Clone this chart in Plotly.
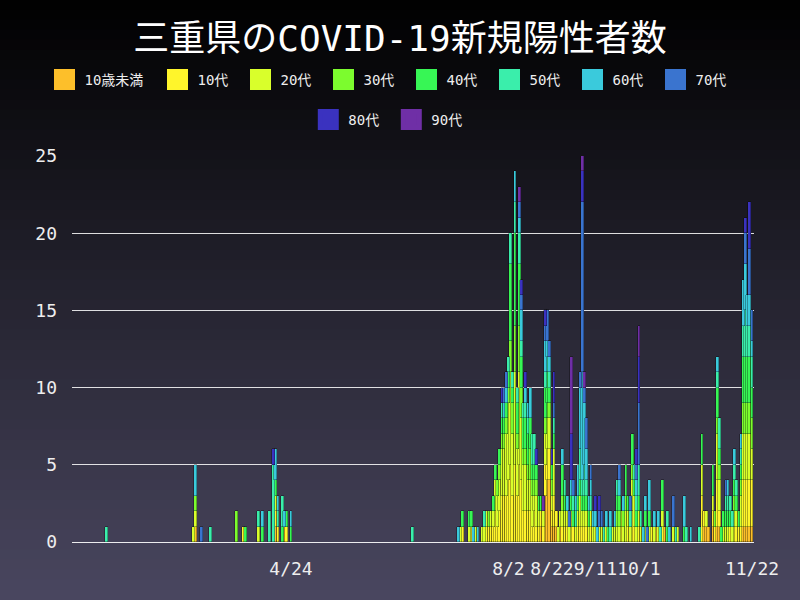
import plotly.graph_objects as go

DATES = [
    "2020-01-30", "2020-03-10", "2020-03-11", "2020-03-14", "2020-03-18", "2020-03-30", "2020-04-02", "2020-04-03", "2020-04-09", "2020-04-11",
    "2020-04-14", "2020-04-16", "2020-04-17", "2020-04-18", "2020-04-20", "2020-04-21", "2020-04-22", "2020-04-24", "2020-06-19", "2020-07-10",
    "2020-07-11", "2020-07-12", "2020-07-15", "2020-07-16", "2020-07-17", "2020-07-18", "2020-07-19", "2020-07-21", "2020-07-22", "2020-07-23",
    "2020-07-24", "2020-07-25", "2020-07-26", "2020-07-27", "2020-07-28", "2020-07-29", "2020-07-30", "2020-07-31", "2020-08-01", "2020-08-02",
    "2020-08-03", "2020-08-04", "2020-08-05", "2020-08-06", "2020-08-07", "2020-08-08", "2020-08-09", "2020-08-10", "2020-08-11", "2020-08-12",
    "2020-08-13", "2020-08-14", "2020-08-15", "2020-08-16", "2020-08-17", "2020-08-18", "2020-08-19", "2020-08-20", "2020-08-21", "2020-08-22",
    "2020-08-23", "2020-08-24", "2020-08-25", "2020-08-26", "2020-08-27", "2020-08-28", "2020-08-29", "2020-08-30", "2020-08-31", "2020-09-01",
    "2020-09-02", "2020-09-03", "2020-09-04", "2020-09-05", "2020-09-06", "2020-09-07", "2020-09-08", "2020-09-09", "2020-09-10", "2020-09-11",
    "2020-09-12", "2020-09-13", "2020-09-14", "2020-09-15", "2020-09-16", "2020-09-17", "2020-09-18", "2020-09-19", "2020-09-20", "2020-09-21",
    "2020-09-22", "2020-09-23", "2020-09-24", "2020-09-25", "2020-09-26", "2020-09-27", "2020-09-28", "2020-09-29", "2020-09-30", "2020-10-01",
    "2020-10-02", "2020-10-03", "2020-10-04", "2020-10-05", "2020-10-06", "2020-10-07", "2020-10-08", "2020-10-09", "2020-10-10", "2020-10-11",
    "2020-10-12", "2020-10-13", "2020-10-14", "2020-10-15", "2020-10-17", "2020-10-18", "2020-10-19", "2020-10-22", "2020-10-23", "2020-10-25",
    "2020-10-29", "2020-10-30", "2020-10-31", "2020-11-01", "2020-11-02", "2020-11-04", "2020-11-05", "2020-11-06", "2020-11-07", "2020-11-08",
    "2020-11-09", "2020-11-10", "2020-11-11", "2020-11-12", "2020-11-13", "2020-11-14", "2020-11-15", "2020-11-16", "2020-11-17", "2020-11-18",
    "2020-11-19", "2020-11-20", "2020-11-21", "2020-11-22",
]

AGE_UNDER10 = [
    0,0,1,0,0,0,0,0,0,0,  0,0,1,0,0,1,0,0,0,0,  0,0,0,0,0,0,0,0,0,0,  0,0,0,0,0,0,0,0,0,0,
    0,0,0,0,0,0,0,0,0,0,  0,0,0,0,1,0,3,4,4,1,  1,1,0,1,0,0,0,0,0,0,  0,0,0,0,0,0,0,0,0,0,
    0,0,0,0,0,0,0,0,0,0,  0,0,0,0,0,0,0,0,0,0,  0,0,0,0,0,0,0,1,0,0,  0,1,0,0,0,0,0,0,0,0,
    0,0,1,1,1,1,0,1,1,0,  0,0,0,0,0,0,0,0,0,1,  1,1,1,1,
]
AGE_10S = [
    0,0,0,0,0,0,1,0,0,0,  0,0,1,1,0,0,1,0,0,0,  0,1,0,1,0,0,0,0,0,1,  1,1,1,2,1,2,3,3,3,4,
    5,3,5,3,5,4,2,2,2,2,  1,2,1,1,1,1,2,2,2,1,  2,1,0,0,1,1,1,0,1,1,  0,1,1,1,1,1,0,1,0,0,
    0,0,0,0,0,0,0,0,0,0,  0,1,0,0,1,0,2,1,0,1,  0,0,0,0,0,1,0,0,0,0,  1,0,0,0,0,0,0,0,0,0,
    0,3,1,0,0,1,1,3,1,0,  0,0,0,1,0,1,1,1,1,3,  3,3,3,3,
]
AGE_20S = [
    0,1,1,0,0,0,0,0,1,0,  0,0,1,0,0,0,0,0,0,0,  1,0,1,0,0,1,0,1,1,1,  0,1,1,2,2,2,3,3,4,5,
    6,4,6,3,6,4,3,3,2,2,  2,1,2,1,0,1,2,2,2,1,  3,0,1,1,1,1,1,1,1,0,  1,1,2,1,1,1,1,1,1,1,
    0,1,1,0,1,0,0,1,1,1,  1,1,1,2,1,1,2,2,1,1,  1,0,1,0,1,0,1,0,1,0,  1,0,0,0,1,0,1,0,0,0,
    0,2,0,1,0,1,0,3,2,0,  1,1,1,0,1,1,1,0,2,3,  3,3,3,2,
]
AGE_30S = [
    0,0,1,0,0,2,0,0,0,0,  0,0,0,0,0,0,0,0,0,0,  0,0,0,0,0,0,0,0,0,0,  1,0,0,0,1,1,1,1,1,1,
    2,2,3,1,3,2,1,1,1,2,  1,1,1,0,0,0,1,1,1,1,  0,0,0,0,1,0,0,0,0,0,  0,0,0,0,0,0,0,0,0,0,
    0,0,0,0,0,0,0,0,0,1,  1,0,1,1,0,0,1,0,0,0,  0,0,0,0,0,0,0,0,0,0,  0,0,0,0,0,0,0,0,0,0,
    0,0,0,0,0,0,1,1,1,0,  0,0,0,0,0,1,0,0,1,2,  2,2,2,2,
]
AGE_40S = [
    0,0,0,0,0,0,0,1,0,1,  0,0,1,0,1,0,1,1,0,0,  0,1,1,1,0,0,0,0,0,0,  0,0,1,1,0,1,1,1,1,1,
    5,1,6,2,4,2,2,2,2,2,  1,1,1,1,1,0,2,2,1,1,  1,0,0,0,2,1,0,0,1,1,  0,1,1,1,1,1,1,0,0,0,
    0,0,0,0,0,1,0,0,0,1,  1,0,0,2,1,0,2,1,1,1,  0,0,1,0,1,0,0,0,0,0,  2,0,1,0,0,0,0,1,0,0,
    0,2,0,0,0,2,0,2,1,1,  1,1,1,1,0,1,1,1,1,3,  3,3,3,2,
]
AGE_50S = [
    1,0,0,0,1,0,0,0,1,0,  2,5,0,1,2,0,0,0,1,0,  0,0,0,0,0,0,0,0,1,0,  0,0,0,0,0,0,1,0,0,1,
    2,1,2,1,2,1,1,1,1,0,  2,2,0,0,0,0,1,1,1,0,  1,0,0,0,0,1,0,0,0,1,  1,0,2,1,2,1,0,1,0,0,
    0,0,0,1,0,0,1,0,0,1,  0,0,0,0,0,1,0,1,1,2,  1,0,0,0,0,0,0,0,0,1,  0,0,1,0,0,1,0,0,1,0,
    1,0,0,0,0,0,0,1,2,0,  0,1,1,1,1,1,1,0,1,2,  3,2,2,2,
]
AGE_60S = [
    0,0,2,0,0,0,0,0,0,1,  0,0,2,1,0,1,0,1,0,1,  0,0,0,0,1,0,1,0,0,0,  0,0,0,0,0,0,0,1,1,0,
    0,0,2,0,1,2,0,1,1,2,  0,0,0,0,0,0,2,1,1,0,  0,0,0,0,1,0,1,0,1,0,  1,2,4,7,4,2,1,1,1,1,
    1,0,0,0,1,0,1,0,1,0,  1,0,1,0,0,0,0,0,1,0,  0,1,1,0,2,0,1,0,1,0,  0,0,0,1,0,0,0,2,0,1,
    0,0,0,0,0,0,0,1,0,0,  0,0,1,0,0,1,0,0,1,3,  3,2,2,1,
]
AGE_70S = [
    0,0,0,1,0,0,0,0,0,0,  0,0,0,0,0,0,0,0,0,0,  0,0,0,0,0,0,0,0,0,0,  0,0,0,0,0,0,0,1,1,0,
    0,0,0,0,1,1,0,0,0,0,  0,0,0,0,0,0,1,2,1,0,  1,0,0,0,0,0,0,1,0,1,  0,0,1,11,1,2,0,1,0,0,
    0,1,1,0,0,0,0,0,0,0,  1,0,0,0,0,1,0,0,1,4,  0,0,0,1,0,0,0,0,0,0,  0,0,0,0,2,0,0,0,0,0,
    0,0,0,0,0,0,0,0,0,0,  0,1,0,0,0,0,0,0,0,0,  2,0,3,2,
]
AGE_80S = [
    0,0,0,0,0,0,0,0,0,0,  0,1,0,0,0,0,0,0,0,0,  0,0,0,0,0,0,0,0,0,0,  0,0,0,0,0,0,1,0,0,0,
    0,0,0,0,0,1,0,1,0,0,  0,0,1,0,0,0,1,0,0,1,  2,0,0,0,0,0,0,0,3,0,  0,0,0,2,0,0,0,0,0,1,
    0,1,0,0,0,0,0,0,0,0,  0,0,0,0,0,0,0,0,1,3,  0,0,0,0,0,0,0,0,0,0,  0,0,0,0,0,0,0,0,0,0,
    0,0,0,0,0,0,0,0,0,0,  0,0,0,0,0,0,0,0,0,0,  1,0,3,0,
]
AGE_90S = [
    0,0,0,0,0,0,0,0,0,0,  0,0,0,0,0,0,0,0,0,0,  0,0,0,0,0,0,0,0,0,0,  0,0,0,0,0,0,0,0,0,0,
    0,0,0,0,1,0,0,0,0,0,  0,0,0,0,0,1,0,0,0,0,  0,0,0,0,0,0,0,0,5,0,  0,0,0,1,1,0,0,0,0,0,
    0,0,0,0,0,0,0,0,0,0,  0,0,0,0,0,0,0,0,0,2,  0,0,0,0,0,0,0,0,0,0,  0,0,0,0,0,0,0,0,0,0,
    0,0,0,0,0,0,0,0,0,0,  0,0,0,0,0,0,0,0,0,0,  0,0,0,0,
]

AGE_LABELS = ["10歳未満", "10代", "20代", "30代", "40代", "50代", "60代", "70代", "80代", "90代"]
AGE_COLORS = ["#fdbf2a", "#fff52b", "#d9ff2b", "#7cfc2e", "#37f655", "#3aeeab",
              "#3acadc", "#3a74cf", "#3a32bf", "#6f2fa6"]
SERIES = [AGE_UNDER10, AGE_10S, AGE_20S, AGE_30S, AGE_40S, AGE_50S, AGE_60S, AGE_70S, AGE_80S, AGE_90S]

TICK_DATES = ["2020-04-24", "2020-08-02", "2020-08-22", "2020-09-11", "2020-10-01", "2020-11-22"]
TICK_TEXT = ["4/24", "8/2", "8/22", "9/11", "10/1", "11/22"]

FONT = "DejaVu Sans Mono, Noto Sans CJK JP, sans-serif"
DAY_MS = 86400000

fig = go.Figure()
for name, color, vals in zip(AGE_LABELS, AGE_COLORS, SERIES):
    fig.add_trace(go.Bar(
        x=DATES, y=[v if v else None for v in vals], name=name,
        width=DAY_MS * 1.25,
        marker=dict(color=color, line=dict(color="rgba(0,0,0,0.5)", width=0.6)),
        legendgroup=name, showlegend=False,
    ))
for i, (name, color) in enumerate(zip(AGE_LABELS, AGE_COLORS)):
    fig.add_trace(go.Scatter(
        x=[None], y=[None], mode="markers", name=name, legendgroup=name,
        marker=dict(symbol="square", size=16, color=color, line=dict(color=color, width=5)),
        legend="legend" if i < 8 else "legend2",
        legendwidth=68 if i == 0 else 38,
    ))

# background gradient (style only)
H, TOP, BOT = 600, 156, 542
n = 60
shapes = []
for k in range(n):
    y0p = k * H / n
    y1p = (k + 1) * H / n
    t = (k + 0.5) / n
    c = (int(round(74 * t)), int(round(71 * t)), int(round(96 * t)))
    shapes.append(dict(
        type="rect", xref="paper", yref="paper", layer="below",
        x0=-0.2, x1=1.2,
        y0=(BOT - y1p) / (BOT - TOP), y1=(BOT - y0p) / (BOT - TOP) + 0.001,
        fillcolor="rgb(%d,%d,%d)" % c, line=dict(width=0),
    ))

fig.update_layout(
    width=800, height=600,
    barmode="stack", bargap=0.0,
    margin=dict(l=72, r=46, t=156, b=58, autoexpand=False),
    paper_bgcolor="#000000", plot_bgcolor="rgba(0,0,0,0)",
    shapes=shapes,
    font=dict(family=FONT, color="#eeeeee"),
    title=dict(text="三重県のCOVID-19新規陽性者数", x=0.5, xref="container", xanchor="center",
               y=1 - 38 / 600, yref="container", yanchor="middle",
               font=dict(size=36, color="#ffffff", family=FONT)),
    legend=dict(orientation="h", x=(44.5 - 72) / 682, xanchor="left",
                y=(542 - 80) / 386, yanchor="middle",
                font=dict(size=14, color="#eeeeee", family=FONT),
                bgcolor="rgba(0,0,0,0)"),
    legend2=dict(orientation="h", x=(308.3 - 72) / 682, xanchor="left",
                 y=(542 - 120) / 386, yanchor="middle",
                 font=dict(size=14, color="#eeeeee", family=FONT),
                 bgcolor="rgba(0,0,0,0)"),
    xaxis=dict(type="date", range=["2020-01-14 07:00", "2020-11-22 22:00"],
               tickmode="array", tickvals=TICK_DATES, ticktext=TICK_TEXT, tickangle=0,
               showgrid=False, zeroline=False, showline=False, ticks="",
               tickfont=dict(size=18, color="#eeeeee", family=FONT), ticklabelstandoff=14),
    yaxis=dict(range=[0, 25], tickvals=[0, 5, 10, 15, 20, 25], showgrid=True,
               gridcolor="rgba(255,255,255,0.85)", gridwidth=1,
               zeroline=True, zerolinecolor="rgba(255,255,255,0.9)", zerolinewidth=1,
               showline=False, ticks="",
               tickfont=dict(size=18, color="#eeeeee", family=FONT), ticklabelstandoff=14),
)

fig.write_html("out.html", config={"displayModeBar": False},
               post_script="document.body.style.margin='0';")
